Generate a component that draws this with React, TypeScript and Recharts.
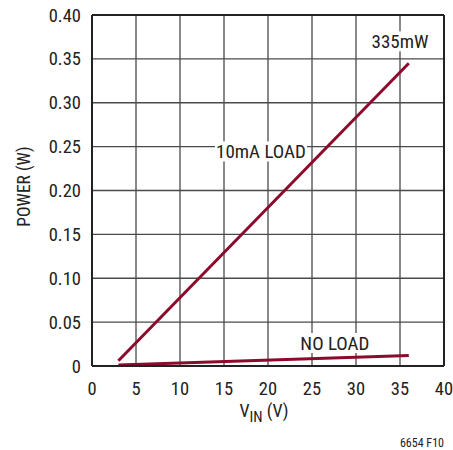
import React from "react";
import {
  LineChart,
  Line,
  XAxis,
  YAxis,
  CartesianGrid,
  ReferenceLine,
  ReferenceDot,
  Label,
} from "recharts";

// supply voltage (V) vs. power (W)
const vin = [3, 36];
const powerLoad10mA = [0.006, 0.345];
const powerNoLoad = [0.001, 0.012];

const xTicks = [0, 5, 10, 15, 20, 25, 30, 35, 40];
const yTicks = [0, 0.05, 0.1, 0.15, 0.2, 0.25, 0.3, 0.35, 0.4];

const loadData = vin.map((v, i) => ({ v, p: powerLoad10mA[i] }));
const noLoadData = vin.map((v, i) => ({ v, p: powerNoLoad[i] }));

const FONT = "'Liberation Sans Narrow', 'Roboto Condensed', 'Arial Narrow', 'Liberation Sans', sans-serif";
const RED = "#8c0a2c";
const GRID = "#4a4a4a";
const FS = 18.5;

// annotation text, placed in data coordinates
const notes = [
  { text: "335mW", x: 35.0, y: 0.37, w: 60 },
  { text: "10mA LOAD", x: 19.2, y: 0.2445, w: 92 },
  { text: "NO LOAD", x: 27.6, y: 0.0262, w: 70 },
];

const noteShape = (text: string, w: number) => (props: any) => {
  const { cx, cy } = props;
  return (
    <g>
      <rect x={cx - w / 2} y={cy - 10} width={w} height={20} fill="#fff" />
      <text
        x={cx}
        y={cy}
        dy={6.5}
        textAnchor="middle"
        fontSize={19}
        fontFamily={FONT}
        fill="#222"
      >
        {text}
      </text>
    </g>
  );
};

const XTitle = (props: any) => {
  const { viewBox } = props;
  const cx = viewBox.x + viewBox.width / 2 - 4;
  return (
    <g>
      <text x={cx} y={viewBox.y + 51} textAnchor="middle" fontSize={18} fontFamily={FONT} fill="#222">
        V
        <tspan fontSize={15} dy={5}>IN</tspan>
        <tspan dy={-5}> (V)</tspan>
      </text>
      <text x={444} y={viewBox.y + 81} textAnchor="end" fontSize={12} fontFamily={FONT} fill="#222">
        6654 F10
      </text>
    </g>
  );
};

const YTitle = (props: any) => {
  const { viewBox } = props;
  const cy = viewBox.y + viewBox.height / 2 - 4;
  return (
    <text
      x={30}
      y={cy}
      transform={`rotate(-90, 30, ${cy})`}
      textAnchor="middle"
      fontSize={17.5}
      fontFamily={FONT}
      fill="#222"
    >
      POWER (W)
    </text>
  );
};

export default function App() {
  return (
    <div style={{ position: "absolute", left: 0, top: 0, background: "#fff" }}>
      <LineChart
        width={453}
        height={450}
        margin={{ top: 15, right: 9, bottom: 0, left: 0 }}
      >
        <CartesianGrid stroke={GRID} strokeWidth={1.3} horizontalValues={yTicks} verticalValues={xTicks} />
        <XAxis
          dataKey="v"
          type="number"
          domain={[0, 40]}
          ticks={xTicks}
          interval={0}
          height={84}
          tickLine={false}
          tickSize={0}
          tickMargin={16}
          axisLine={{ stroke: "#222", strokeWidth: 2 }}
          tick={{ fontSize: FS, fontFamily: FONT, fill: "#222" }}
        >
          <Label content={<XTitle />} />
        </XAxis>
        <YAxis
          dataKey="p"
          type="number"
          domain={[0, 0.4]}
          ticks={yTicks}
          interval={0}
          width={92}
          tickLine={false}
          tickSize={0}
          tickMargin={11}
          axisLine={{ stroke: "#222", strokeWidth: 2 }}
          tick={{ fontSize: FS, fontFamily: FONT, fill: "#222" }}
          tickFormatter={(v: number) => (v === 0 ? "0" : v.toFixed(2))}
        >
          <Label content={<YTitle />} />
        </YAxis>
        <ReferenceLine y={0.4} stroke="#222" strokeWidth={2} />
        <ReferenceLine x={40} stroke="#222" strokeWidth={2} />
        {notes.map((n) => (
          <ReferenceDot key={n.text} x={n.x} y={n.y} r={0} shape={noteShape(n.text, n.w)} />
        ))}
        <Line
          data={loadData}
          dataKey="p"
          stroke={RED}
          strokeWidth={3}
          dot={false}
          isAnimationActive={false}
        />
        <Line
          data={noLoadData}
          dataKey="p"
          stroke={RED}
          strokeWidth={3}
          dot={false}
          isAnimationActive={false}
        />
      </LineChart>
    </div>
  );
}
